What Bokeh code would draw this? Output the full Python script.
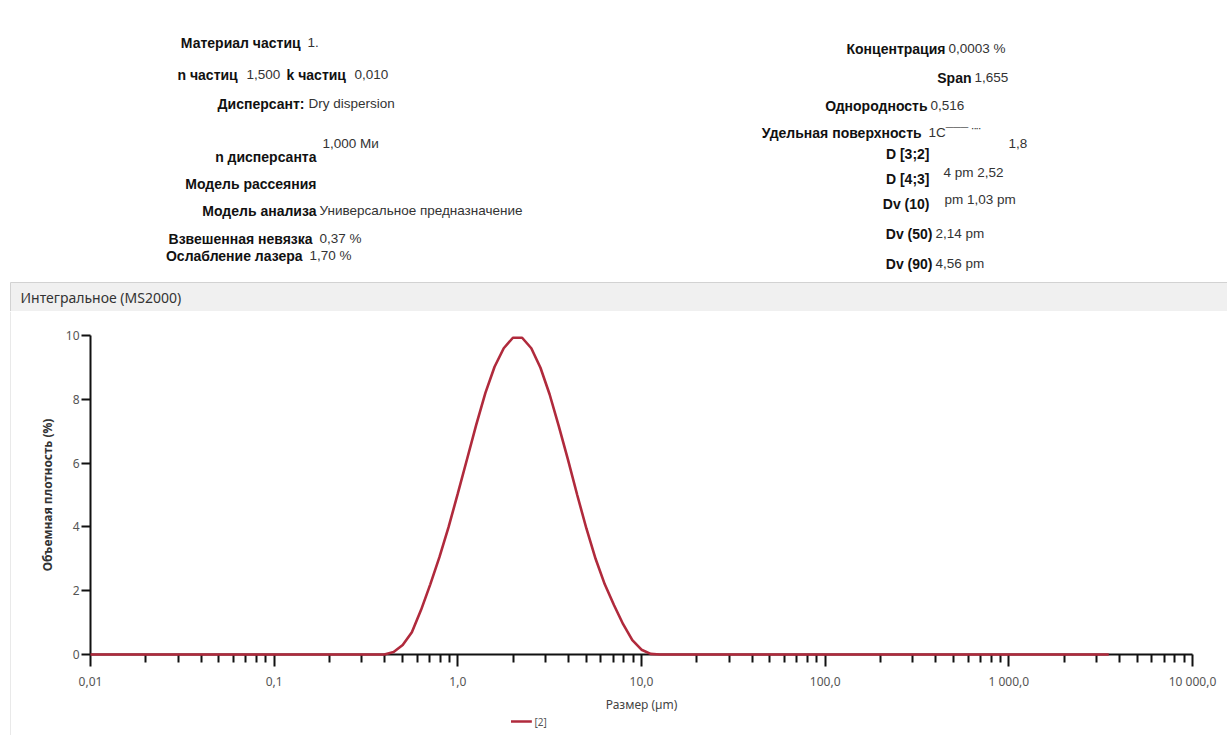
from bokeh.plotting import figure
from bokeh.layouts import column, row
from bokeh.models import FixedTicker, CustomJSTickFormatter, Range1d
from bokeh.core.properties import value
from bokeh.embed import file_html
from bokeh.resources import INLINE

# ---------------- data ----------------
size_um = [0.01, 0.355, 0.398, 0.447, 0.501, 0.562, 0.631, 0.708, 0.794, 0.891,
           1.0, 1.122, 1.259, 1.413, 1.585, 1.778, 1.995, 2.239, 2.512, 2.818,
           3.162, 3.548, 3.981, 4.467, 5.012, 5.623, 6.310, 7.079, 7.943, 8.913,
           10.0, 11.22, 12.59, 3500.0]
volume_pct = [0, 0, 0.0, 0.08, 0.3, 0.7, 1.4, 2.2, 3.05, 4.0,
              5.05, 6.12, 7.2, 8.2, 9.02, 9.6, 9.93, 9.93, 9.6, 8.99,
              8.15, 7.15, 6.1, 5.0, 3.95, 3.0, 2.2, 1.55, 0.95, 0.45,
              0.15, 0.02, 0, 0]
series_name = "[2]"
series_color = "#b02a3c"

x_major_ticks = [0.01, 0.1, 1, 10, 100, 1000, 10000]
x_tick_labels = ["0,01", "0,1", "1,0", "10,0", "100,0", "1 000,0", "10 000,0"]
x_minor_ticks = [m * d for d in [0.01, 0.1, 1, 10, 100, 1000] for m in range(2, 10)]
y_ticks = [0, 2, 4, 6, 8, 10]

# header texts: (text, x, y) -- bold labels right aligned, values left aligned
bold_right = [
    ("Материал  частиц", 304, 42), ("Дисперсант:", 304, 103),
    ("n дисперсанта", 316, 156), ("Модель рассеяния", 316, 183),
    ("Модель анализа", 316, 210), ("Взвешенная  невязка", 316, 238),
    ("Ослабление  лазера", 306, 255),
    ("Концентрация", 945, 48), ("Span", 971, 77), ("Однородность", 927, 105),
    ("Удельная  поверхность", 925, 132), ("D [3;2]", 929, 153),
    ("D [4;3]", 929, 178), ("Dv (10)", 929, 203), ("Dv (50)", 932, 233),
    ("Dv (90)", 932, 263),
]
bold_left = [("n частиц", 177, 74), ("k частиц", 286, 74)]
plain_left = [
    ("1.", 307, 42), ("1,500", 246, 74), ("0,010", 354, 74),
    ("Dry dispersion", 308, 103), ("1,000 Ми", 322, 143),
    ("Универсальное предназначение", 319, 210), ("0,37 %", 319, 238),
    ("1,70 %", 309, 255),
    ("0,0003 %", 948, 48), ("1,655", 974, 77), ("0,516", 930, 105),
    ("1С¯¯¯   ¨¨", 928, 132), ("1,8", 1008, 143), ("4 pm 2,52", 943, 172),
    ("pm 1,03 pm", 944, 199), ("2,14 pm", 935, 233), ("4,56 pm", 935, 263),
]
panel_title = "Интегральное (MS2000)"

W, H = 1227, 735
HEAD_H = 311
STRIP_W = 11
LEG_H = 20
FONT_DOC = "Liberation Sans"
FONT_UI = "Noto Sans"

# ---------------- header figure ----------------
ph = figure(width=W, height=HEAD_H, x_range=Range1d(0, W), y_range=Range1d(HEAD_H, 0),
            toolbar_location=None, output_backend="svg",
            x_axis_location=None, y_axis_location=None, min_border=0)
ph.grid.visible = False
ph.outline_line_color = None
ph.background_fill_color = "white"
ph.border_fill_color = "white"

ph.quad(left=[10], right=[W + 5], top=[282], bottom=[311],
        fill_color="#f0f0f0", line_color="#d2d2d2", line_width=1)
ph.text(x=[20], y=[297], text=[panel_title], text_font=value(FONT_UI),
        text_font_size=value("14px"), text_color="#333333",
        text_baseline="middle", text_align="left")


def draw(items, bold, align, size, color):
    ph.text(x=[t[1] for t in items], y=[t[2] for t in items], text=[t[0] for t in items],
            text_font=value(FONT_DOC), text_font_size=value(size),
            text_font_style="bold" if bold else "normal", text_color=color,
            text_align=align, text_baseline="middle")


draw(bold_right, True, "right", "14px", "#111111")
draw(bold_left, True, "left", "14px", "#111111")
draw(plain_left, False, "left", "13.5px", "#333333")

# ---------------- left border strip ----------------
ps = figure(width=STRIP_W, height=H - HEAD_H, x_range=Range1d(0, STRIP_W), y_range=Range1d(0, 1),
            toolbar_location=None, output_backend="svg",
            x_axis_location=None, y_axis_location=None, min_border=0)
ps.grid.visible = False
ps.outline_line_color = None
ps.segment(x0=[10.5], y0=[0], x1=[10.5], y1=[1], line_color="#d2d2d2", line_width=1)

# ---------------- chart figure ----------------
CW = W - STRIP_W
CH = H - HEAD_H - LEG_H
p = figure(width=CW, height=CH, x_axis_type="log", x_range=(0.01, 10000), y_range=(0, 10),
           toolbar_location=None, output_backend="svg",
           min_border_left=90 - STRIP_W, min_border_right=CW - (1192 - STRIP_W),
           min_border_top=335 - HEAD_H, min_border_bottom=(HEAD_H + CH) - 655)
p.grid.visible = False
p.outline_line_color = None
p.background_fill_color = "white"
p.border_fill_color = "white"

r = p.line(size_um, volume_pct, line_color=series_color, line_width=2.6, level="overlay")

xa = p.xaxis[0]
xa.ticker = FixedTicker(ticks=x_major_ticks, minor_ticks=x_minor_ticks)
xa.formatter = CustomJSTickFormatter(args=dict(labels=x_tick_labels),
                                     code="return labels[Math.round(Math.log10(tick)) + 2];")
xa.axis_line_width = 2
xa.axis_line_color = "#111111"
xa.major_tick_line_width = 2
xa.minor_tick_line_width = 2
xa.major_tick_line_color = "#111111"
xa.minor_tick_line_color = "#111111"
xa.major_tick_in = 0
xa.major_tick_out = 12
xa.minor_tick_in = 0
xa.minor_tick_out = 8
xa.major_label_text_font = FONT_UI
xa.major_label_text_font_size = "12px"
xa.major_label_text_color = "#555555"
xa.major_label_standoff = 6
xa.axis_label = "Размер (µm)"
xa.axis_label_text_font = FONT_UI
xa.axis_label_text_font_size = "12px"
xa.axis_label_text_font_style = "normal"
xa.axis_label_text_color = "#444444"
xa.axis_label_standoff = 3

ya = p.yaxis[0]
ya.ticker = FixedTicker(ticks=y_ticks)
ya.axis_line_width = 2
ya.axis_line_color = "#111111"
ya.major_tick_line_width = 2
ya.major_tick_line_color = "#111111"
ya.major_tick_in = 0
ya.major_tick_out = 9
ya.minor_tick_out = 0
ya.minor_tick_in = 0
ya.major_label_text_font = FONT_UI
ya.major_label_text_font_size = "12px"
ya.major_label_text_color = "#555555"
ya.major_label_standoff = 2
ya.axis_label = "Объемная плотность (%)"
ya.axis_label_text_font = FONT_UI
ya.axis_label_text_font_size = "12px"
ya.axis_label_text_font_style = "bold"
ya.axis_label_text_color = "#333333"
ya.axis_label_standoff = 7

# ---------------- legend strip (swatch + series name) ----------------
pl = figure(width=CW, height=LEG_H, x_range=Range1d(0, CW), y_range=Range1d(LEG_H, 0),
            toolbar_location=None, output_backend="svg",
            x_axis_location=None, y_axis_location=None, min_border=0)
pl.grid.visible = False
pl.outline_line_color = None
pl.background_fill_color = "white"
pl.border_fill_color = "white"
pl.segment(x0=[475 - STRIP_W], y0=[6], x1=[498 - STRIP_W], y1=[6],
           line_color=series_color, line_width=2.6)
pl.text(x=[501 - STRIP_W], y=[6], text=[series_name], text_font=value(FONT_UI),
        text_font_size=value("10px"), text_color="#555555",
        text_align="left", text_baseline="middle")

layout = column(ph, row(ps, column(p, pl, spacing=0), spacing=0), spacing=0)
open("out.html", "w").write(file_html(layout, INLINE))
